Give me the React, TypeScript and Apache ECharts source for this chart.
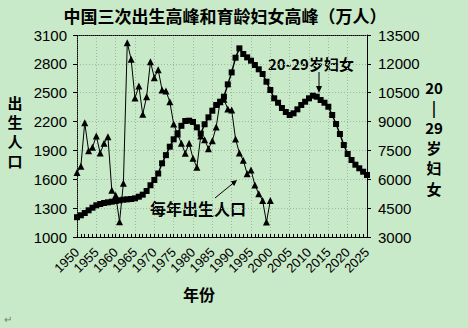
import React, { useEffect, useRef } from 'react';
import * as echarts from 'echarts';

const years: string[] = [
  '1950','1951','1952','1953','1954','1955','1956','1957','1958','1959',
  '1960','1961','1962','1963','1964','1965','1966','1967','1968','1969',
  '1970','1971','1972','1973','1974','1975','1976','1977','1978','1979',
  '1980','1981','1982','1983','1984','1985','1986','1987','1988','1989',
  '1990','1991','1992','1993','1994','1995','1996','1997','1998','1999',
  '2000','2001','2002','2003','2004','2005','2006','2007','2008','2009',
  '2010','2011','2012','2013','2014','2015','2016','2017','2018','2019',
  '2020','2021','2022','2023','2024','2025'
];

// 每年出生人口 (万人), 1950-2000
const births: number[] = [
  1670, 1735, 2188, 1897, 1932, 2050, 1872, 1974, 2043, 1485,
  1435, 1159, 1558, 3020, 2847, 2445, 2570, 2276, 2458, 2822,
  2656, 2740, 2528, 2518, 2406, 2175, 2070, 1974, 1870, 1974,
  1818, 1725, 2050, 2012, 1917, 2000, 2144, 2406, 2431, 2331,
  2320, 2020, 1873, 1797, 1658, 1697, 1540, 1450, 1380, 1155,
  1380
];

// 20-29岁妇女 (万人), 1950-2025
const women: number[] = [
  4030, 4128, 4247, 4388, 4523, 4648, 4715, 4767, 4802, 4835,
  4871, 4906, 4940, 4958, 4975, 5010, 5094, 5200, 5390, 5690,
  5962, 6300, 6830, 7255, 7693, 8078, 8390, 8780, 9030, 9046,
  8980, 8700, 8370, 8860, 9220, 9565, 9861, 10032, 10292, 10933,
  11557, 12319, 12806, 12511, 12338, 12165, 11940, 11717, 11472, 11072,
  10641, 10209, 9980, 9705, 9497, 9341, 9428, 9636, 9861, 10032,
  10209, 10344, 10292, 10121, 9980, 9772, 9341, 8873, 8353, 7782,
  7314, 7002, 6758, 6571, 6394, 6222
];

const leftMin = 1000, leftMax = 3100, leftStep = 300;
const rightMin = 3000, rightMax = 13500, rightStep = 1500;

const TITLE = '中国三次出生高峰和育龄妇女高峰（万人）';
const LEFT_NAME = ['出', '生', '人', '口'];
const RIGHT_NAME = ['20', '|', '29', '岁', '妇', '女'];
const CJK = '"Noto Sans CJK SC", "Noto Sans", sans-serif';
const NUM = '"Liberation Sans", Arial, sans-serif';

export default function App() {
  const ref = useRef<HTMLDivElement>(null);
  useEffect(() => {
    document.body.style.margin = '0';
    const chart = echarts.init(ref.current!, undefined, { renderer: 'svg' });
    const gridColor = '#9fb89f';
    const leftNameTexts = LEFT_NAME.map((t, i) => ({
      type: 'text', x: 15, y: 102 + i * 19.5,
      style: { text: t, font: `bold 15px ${CJK}`, fill: '#000', align: 'center', verticalAlign: 'middle' },
    }));
    const rightNameTexts = RIGHT_NAME.map((t, i) => ({
      type: 'text', x: 434, y: 87 + i * 20.2,
      style: { text: t, font: `bold 15px ${CJK}`, fill: '#000', align: 'center', verticalAlign: 'middle' },
    }));
    const option: any = {
      animation: false,
      backgroundColor: '#c8eac8',
      grid: { left: 77, right: 101, top: 35, bottom: 91 },
      xAxis: [
        {
          type: 'category',
          data: years,
          boundaryGap: false,
          axisLine: { lineStyle: { color: '#000', width: 1 } },
          axisTick: { interval: 0, length: 3, inside: true, lineStyle: { color: '#000' } },
          axisLabel: {
            interval: 4, rotate: 45, margin: 13, color: '#000',
            fontSize: 13, fontFamily: NUM,
            showMinLabel: true, showMaxLabel: true, hideOverlap: false,
          },
          splitLine: { show: true, interval: 4, lineStyle: { color: gridColor, type: [1, 2] } },
        },
        {
          type: 'category',
          data: years,
          boundaryGap: false,
          position: 'top',
          axisLine: { lineStyle: { color: '#000', type: [1, 1] } },
          axisTick: { show: false },
          axisLabel: { show: false },
          splitLine: { show: false },
        },
      ],
      yAxis: [
        {
          type: 'value', min: leftMin, max: leftMax, interval: leftStep,
          axisLine: { show: true, lineStyle: { color: '#000', type: [1, 1] } },
          axisTick: { show: true, length: 4, lineStyle: { color: '#000' } },
          axisLabel: { color: '#000', fontSize: 15, fontFamily: NUM, margin: 10, formatter: (v: number) => String(v) },
          splitLine: { show: true, lineStyle: { color: gridColor, type: [1, 2] } },
        },
        {
          type: 'value', min: rightMin, max: rightMax, interval: rightStep,
          position: 'right',
          axisLine: { show: true, lineStyle: { color: '#000', width: 1 } },
          axisTick: { show: true, length: 4, lineStyle: { color: '#000' } },
          axisLabel: { color: '#000', fontSize: 15, fontFamily: NUM, margin: 11, formatter: (v: number) => String(v) },
          splitLine: { show: false },
        },
      ],
      series: [
        {
          name: '每年出生人口',
          type: 'line',
          yAxisIndex: 0,
          data: births,
          symbol: 'triangle',
          symbolSize: 7,
          showSymbol: true,
          showAllSymbol: true,
          lineStyle: { color: '#000', width: 1 },
          itemStyle: { color: '#000', borderColor: '#000', borderWidth: 0 },
          z: 2,
        },
        {
          name: '20-29岁妇女',
          type: 'line',
          yAxisIndex: 1,
          data: women,
          symbol: 'rect',
          symbolSize: 6,
          showSymbol: true,
          showAllSymbol: true,
          lineStyle: { color: '#000', width: 1.5 },
          itemStyle: { color: '#000', borderWidth: 0 },
          z: 3,
        },
      ],
      graphic: [
        {
          type: 'text', x: 225, y: 15,
          style: { text: TITLE, font: `bold 17px ${CJK}`, fill: '#000', align: 'center', verticalAlign: 'middle' },
        },
        ...leftNameTexts,
        ...rightNameTexts,
        {
          type: 'text', x: 199, y: 294,
          style: { text: '年份', font: `bold 16px ${CJK}`, fill: '#000', align: 'center', verticalAlign: 'middle' },
        },
        {
          type: 'text', x: 268, y: 63,
          style: { text: '20-29岁妇女', font: `bold 15px ${CJK}`, fill: '#000', align: 'left', verticalAlign: 'middle' },
        },
        {
          type: 'line', shape: { x1: 319, y1: 72, x2: 319, y2: 89 },
          style: { stroke: '#000', lineWidth: 1 },
        },
        {
          type: 'polygon', shape: { points: [[316, 86], [322, 86], [319, 93]] },
          style: { fill: '#000' },
        },
        {
          type: 'text', x: 150, y: 208,
          style: { text: '每年出生人口', font: `bold 16px ${CJK}`, fill: '#000', align: 'left', verticalAlign: 'middle' },
        },
        {
          type: 'line', shape: { x1: 215, y1: 198, x2: 234, y2: 182.5 },
          style: { stroke: '#000', lineWidth: 1 },
        },
        {
          type: 'polygon', shape: { points: [[237, 180], [234.2, 186.1], [230.4, 181.5]] },
          style: { fill: '#000' },
        },
        {
          type: 'text', x: 4, y: 318,
          style: { text: '↵', font: `10px ${CJK}`, fill: '#777', align: 'left', verticalAlign: 'middle' },
        },
      ],
    };
    chart.setOption(option);
    return () => chart.dispose();
  }, []);
  return (
    <div
      ref={ref}
      style={{ position: 'absolute', left: 0, top: 0, width: 468, height: 328 }}
    />
  );
}
